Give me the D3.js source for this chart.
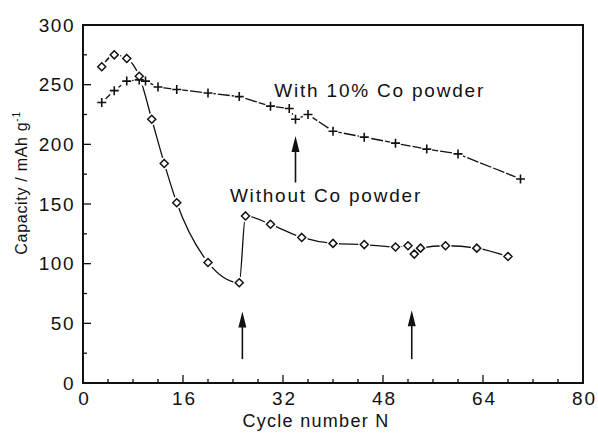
<!DOCTYPE html>
<html><head><meta charset="utf-8">
<script src="https://cdn.jsdelivr.net/npm/d3@7"></script>
<style>
html,body{margin:0;padding:0;background:#fff;}
text{font-family:"Liberation Sans",Arial,sans-serif;fill:#111;}
</style></head>
<body><svg id="c" width="598" height="433"></svg>
<script>
// Data
const withoutCycles = [3,5,7,9,11,13,15,20,25,26,30,35,40,45,50,52,53,54,58,63,68];
const withoutCapacity = [265,275,272,257,221,184,151,101,84,140,133,122,117,116,114,115,108,113,115,113,106];
const withCycles = [3,5,7,9,10,12,15,20,25,30,33,34,36,40,45,50,55,60,70];
const withCapacity = [235,245,253,254,253,248,246,243,240,232,230,221,225,211,206,201,196,192,171];
const xTicks = [0,16,32,48,64,80];
const yTicks = [0,50,100,150,200,250,300];
const arrowCycle = [34,25.5,52.6];
const arrowFrom = [168,20,20];
const arrowTo = [207,60,61];
const labelText = ["With 10% Co powder","Without Co powder"];
const labelCycle = [30.6,23.5];
const labelCapacity = [240,152];

const svg = d3.select("#c");
const m = {l:83,t:25,r:15,b:50};
const W = 598, H = 433;
const x = d3.scaleLinear().domain([0,80]).range([m.l, W-m.r]);
const y = d3.scaleLinear().domain([0,300]).range([H-m.b, m.t]);
const ink = "#111";

// minor ticks
const g = svg.append("g");
const xMinor = d3.range(0,81,4);
const yMinor = d3.range(0,301,25);
g.selectAll(".xm").data(xMinor).join("line")
  .attr("x1",d=>x(d)).attr("x2",d=>x(d))
  .attr("y1",y(0)).attr("y2",d=> y(0) - (d%16===0?8:4))
  .attr("stroke",ink).attr("stroke-width",1.3);
g.selectAll(".ym").data(yMinor).join("line")
  .attr("y1",d=>y(d)).attr("y2",d=>y(d))
  .attr("x1",x(0)).attr("x2",d=> x(0) + (d%50===0?8:4))
  .attr("stroke",ink).attr("stroke-width",1.3);

// frame
svg.append("rect").attr("x",x(0)).attr("y",y(300)).attr("width",x(80)-x(0)).attr("height",y(0)-y(300))
  .attr("fill","none").attr("stroke",ink).attr("stroke-width",2);

// axes labels
const xa = svg.append("g").attr("transform",`translate(0,${y(0)})`)
  .call(d3.axisBottom(x).tickValues(xTicks).tickSize(0).tickPadding(9));
xa.select(".domain").remove();
xa.selectAll("text").attr("font-size",19).attr("letter-spacing",2).attr("dx",1).attr("fill",ink);
const ya = svg.append("g").attr("transform",`translate(${x(0)},0)`)
  .call(d3.axisLeft(y).tickValues(yTicks).tickSize(0).tickPadding(8));
ya.select(".domain").remove();
ya.selectAll("text").attr("font-size",19).attr("letter-spacing",1.5).attr("fill",ink);

svg.append("text").attr("x",316).attr("y",427).attr("text-anchor","middle")
  .attr("font-size",18).attr("letter-spacing",1.3).text("Cycle number N");
const yt = svg.append("text").attr("transform",`translate(27,${183}) rotate(-90)`).attr("text-anchor","middle")
  .attr("font-size",16).attr("letter-spacing",0.7);
yt.append("tspan").text("Capacity / mAh g");
yt.append("tspan").attr("font-size",10).attr("dy",-7).text("-1");

// lines
const withoutData = withoutCycles.map((c,i)=>[c,withoutCapacity[i]]);
const withData = withCycles.map((c,i)=>[c,withCapacity[i]]);
const lineW = d3.line().x(d=>x(d[0])).y(d=>y(d[1])).curve(d3.curveMonotoneX);
const lineC = d3.line().x(d=>x(d[0])).y(d=>y(d[1]));
svg.append("path").attr("d",lineW(withoutData)).attr("fill","none").attr("stroke",ink).attr("stroke-width",1.3);
svg.append("path").attr("d",lineC(withData)).attr("fill","none").attr("stroke",ink).attr("stroke-width",1.3)
  .attr("stroke-dasharray","12,2");

// markers with gap
svg.selectAll(".gapc").data(withData).join("circle")
  .attr("cx",d=>x(d[0])).attr("cy",d=>y(d[1])).attr("r",5.5).attr("fill","#fff");
svg.selectAll(".gapd").data(withoutData).join("circle")
  .attr("cx",d=>x(d[0])).attr("cy",d=>y(d[1])).attr("r",6).attr("fill","#fff");
svg.selectAll(".cross").data(withData).join("path")
  .attr("d",d=>{const cx=x(d[0]),cy=y(d[1]),s=4.5;return `M${cx-s},${cy}H${cx+s}M${cx},${cy-s}V${cy+s}`;})
  .attr("stroke",ink).attr("stroke-width",1.6).attr("fill","none");
svg.selectAll(".dia").data(withoutData).join("path")
  .attr("d",d=>{const cx=x(d[0]),cy=y(d[1]),s=4;return `M${cx},${cy-s}L${cx+s},${cy}L${cx},${cy+s}L${cx-s},${cy}Z`;})
  .attr("stroke",ink).attr("stroke-width",1.5).attr("fill","#fff");

// arrows
arrowCycle.forEach((c,i)=>{
  const ax=x(c), y0=y(arrowFrom[i]), y1=y(arrowTo[i]);
  svg.append("line").attr("x1",ax).attr("x2",ax).attr("y1",y0).attr("y2",y1+10)
    .attr("stroke",ink).attr("stroke-width",1.6);
  svg.append("path").attr("d",`M${ax},${y1}L${ax+4},${y1+16}L${ax-4},${y1+16}Z`).attr("fill",ink);
});

// labels
labelText.forEach((t,i)=>{
  svg.append("text").attr("x",x(labelCycle[i])).attr("y",y(labelCapacity[i]))
    .attr("font-size",19).attr("letter-spacing",1.8).text(t);
});
</script></body></html>
